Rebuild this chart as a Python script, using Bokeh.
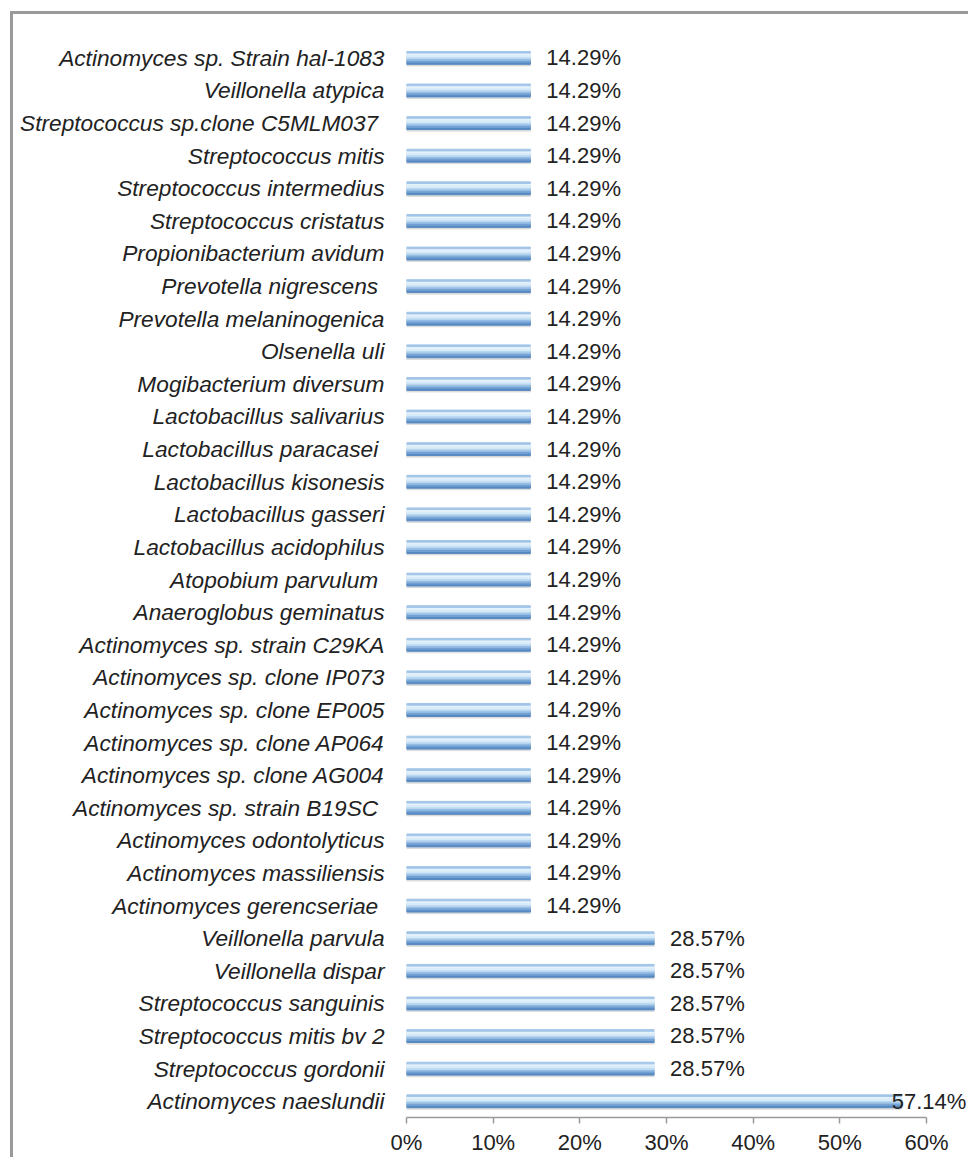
from bokeh.plotting import figure
from bokeh.models import FactorRange, Range1d, ColumnDataSource, PrintfTickFormatter, FixedTicker, LabelSet
from bokeh.transform import dodge
from bokeh.core.properties import value
from bokeh.embed import file_html
from bokeh.resources import INLINE

# categories top -> bottom as in the reference
species = [
    "Actinomyces sp. Strain hal-1083",
    "Veillonella atypica",
    "Streptococcus sp.clone C5MLM037 ",
    "Streptococcus mitis",
    "Streptococcus intermedius",
    "Streptococcus cristatus",
    "Propionibacterium avidum",
    "Prevotella nigrescens ",
    "Prevotella melaninogenica",
    "Olsenella uli",
    "Mogibacterium diversum",
    "Lactobacillus salivarius",
    "Lactobacillus paracasei ",
    "Lactobacillus kisonesis",
    "Lactobacillus gasseri",
    "Lactobacillus acidophilus",
    "Atopobium parvulum ",
    "Anaeroglobus geminatus",
    "Actinomyces sp. strain C29KA",
    "Actinomyces sp. clone IP073",
    "Actinomyces sp. clone EP005",
    "Actinomyces sp. clone AP064",
    "Actinomyces sp. clone AG004",
    "Actinomyces sp.  strain B19SC",
    "Actinomyces odontolyticus",
    "Actinomyces massiliensis",
    "Actinomyces gerencseriae ",
    "Veillonella parvula",
    "Veillonella dispar",
    "Streptococcus sanguinis",
    "Streptococcus mitis bv 2",
    "Streptococcus gordonii",
    "Actinomyces naeslundii",
]
percent = [14.29] * 27 + [28.57] * 5 + [57.14]
x_ticks = [0, 10, 20, 30, 40, 50, 60]
axis_max = 60

labels = ["%.2f%%" % v for v in percent]
label_offsets = [-10 if v > 50 else 16 for v in percent]

src = ColumnDataSource(dict(cat=species, val=percent, lab=labels, off=label_offsets))

W, H = 968, 1157
left_border = 406
axis_px = 520  # pixel length of the 0..60% axis
frame_w = W - left_border
p = figure(
    width=W, height=H,
    y_range=FactorRange(factors=list(reversed(species)), range_padding=0),
    x_range=Range1d(0, axis_max * frame_w / axis_px),
    output_backend="svg", toolbar_location=None,
    min_border_left=left_border, min_border_right=0, min_border_top=41, min_border_bottom=10,
)
# gray outer frame (top and left edges visible in the reference), drawn as host background
g = "linear-gradient(#9a9a9a,#9a9a9a)"
p.styles = {
    "background": f"{g} 10px 11px / 100% 3px no-repeat, {g} 10px 11px / 3px 100% no-repeat, white",
}
p.outline_line_color = None
p.background_fill_color = None
p.border_fill_color = None
p.xgrid.visible = False
p.ygrid.visible = False

# bars drawn as stacked bands (bottom -> top) for a cylindrical gradient look
p.hbar(y=dodge("cat", -0.05, range=p.y_range), right="val", left=0, height=0.40,
       source=src, color="#c8c8c8", alpha=0.5)
bands = [(-0.165, 0.07, "#5689c1"), (-0.105, 0.06, "#72a1d4"), (-0.05, 0.05, "#96bde4"),
         (0.0, 0.05, "#bad7f0"), (0.06, 0.07, "#d8ebf8"), (0.12, 0.05, "#e6f2fb"),
         (0.17, 0.05, "#a2c5e8")]
for off, h, col in bands:
    p.hbar(y=dodge("cat", off, range=p.y_range), right="val", left=0, height=h,
           source=src, color=col)

p.add_layout(LabelSet(x="val", y="cat", text="lab", x_offset="off", source=src,
                      text_font=value("Liberation Sans"), text_font_size="22px",
                      text_color="#222222", text_baseline="middle", text_align="left"))

# axes
p.xaxis.ticker = FixedTicker(ticks=x_ticks)
p.xaxis.bounds = (0, axis_max)
p.xaxis.formatter = PrintfTickFormatter(format="%d%%")
p.xaxis.axis_line_color = "#9a9a9a"
p.xaxis.axis_line_width = 1.5
p.xaxis.major_tick_line_color = "#9a9a9a"
p.xaxis.major_tick_line_width = 1.5
p.xaxis.major_tick_in = 0
p.xaxis.major_tick_out = 6
p.xaxis.minor_tick_line_color = None
p.xaxis.major_label_text_font = "Liberation Sans"
p.xaxis.major_label_text_font_size = "22px"
p.xaxis.major_label_text_color = "#222222"
p.xaxis.major_label_standoff = 6

p.yaxis.axis_line_color = None
p.yaxis.major_tick_line_color = None
p.yaxis.minor_tick_line_color = None
p.yaxis.major_label_text_font = "Liberation Sans"
p.yaxis.major_label_text_font_style = "italic"
p.yaxis.major_label_text_font_size = "22.7px"
p.yaxis.major_label_text_color = "#222222"
p.yaxis.major_label_standoff = 16

open("out.html", "w").write(file_html(p, INLINE))
